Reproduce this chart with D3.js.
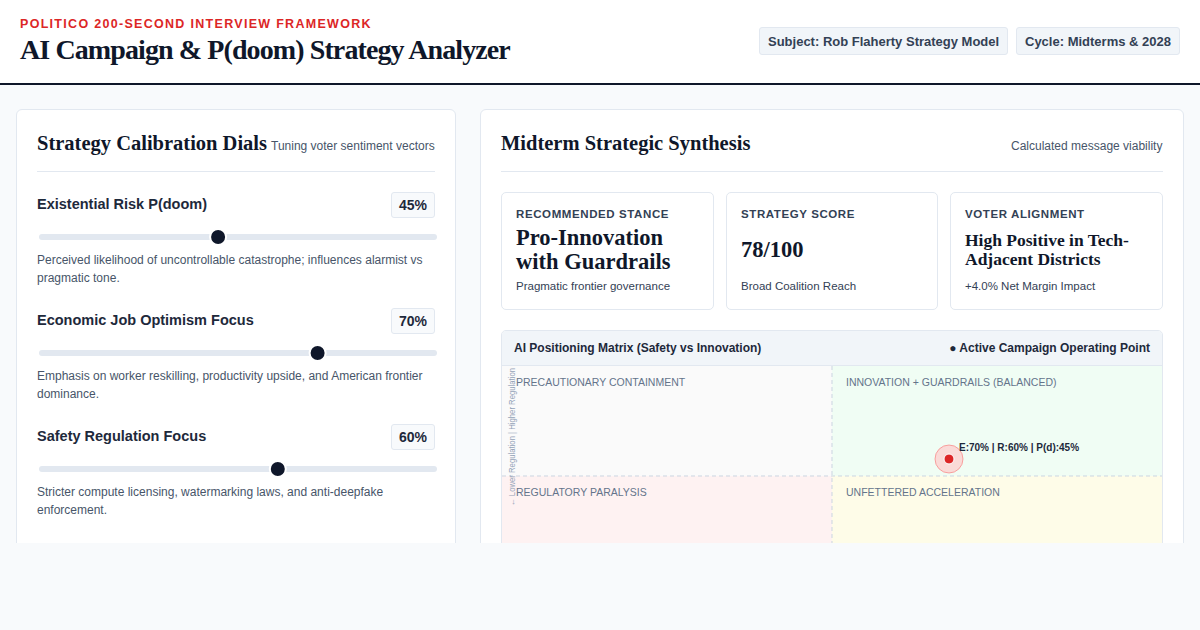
<!DOCTYPE html>
<html><head><meta charset="utf-8">
<script src="https://cdn.jsdelivr.net/npm/d3@7"></script>
<style>
*{box-sizing:border-box;margin:0;padding:0}
body{width:1200px;height:630px;background:#f8fafc;font-family:"Liberation Sans",Arial,sans-serif;color:#0f172a;overflow:hidden;position:relative}
.hdr{position:absolute;left:0;top:0;width:1200px;height:85px;background:#fff;border-bottom:2px solid #0f172a}
.kick{position:absolute;left:20px;top:17px;font-size:12.5px;font-weight:700;letter-spacing:1.3px;color:#dc2626}
.title{position:absolute;left:20px;top:34px;font-family:"Liberation Serif",serif;font-weight:700;font-size:28px;letter-spacing:-0.9px}
.tag{position:absolute;top:27px;height:28px;padding:0 8px;line-height:27px;background:#f1f5f9;border:1px solid #e2e8f0;border-radius:3px;font-size:13px;font-weight:700;color:#334155}
.clip{position:absolute;left:0;top:86px;width:1200px;height:457px;overflow:hidden}
.card{position:absolute;background:#fff;border:1px solid #e2e8f0;border-radius:6px}
.h2{position:absolute;font-family:"Liberation Serif",serif;font-weight:700;font-size:20.5px}
.sub{position:absolute;font-size:12px;color:#475569}
.hr{position:absolute;height:1px;background:#e2e8f0}
.lab{position:absolute;font-size:14.5px;font-weight:700;color:#1e293b}
.pct{position:absolute;width:44px;height:26px;border:1px solid #e2e8f0;background:#f8fafc;border-radius:3px;font-size:14px;font-weight:700;text-align:center;line-height:24px;color:#1e293b}
.desc{position:absolute;font-size:12px;color:#475569;line-height:18px;width:400px}
.mc{position:absolute;top:82px;height:118px;border:1px solid #e2e8f0;border-radius:5px;background:#fff}
.mc .k{position:absolute;left:14px;top:15px;font-size:11.5px;font-weight:700;letter-spacing:.6px;color:#334155}
.mc .v{position:absolute;left:14px;font-family:"Liberation Serif",serif;font-weight:700;color:#0f172a}
.mc .s{position:absolute;left:14px;top:87px;font-size:11.5px;color:#334155}
</style></head><body>
<div class="hdr">
<div class="kick">POLITICO 200-SECOND INTERVIEW FRAMEWORK</div>
<div class="title">AI Campaign &amp; P(doom) Strategy Analyzer</div>
<div class="tag" style="left:759px">Subject: Rob Flaherty Strategy Model</div>
<div class="tag" style="left:1016px">Cycle: Midterms &amp; 2028</div>
</div>
<div class="clip">
<div class="card" style="left:16px;top:23px;width:440px;height:500px">
 <div class="h2" style="left:20px;top:22px">Strategy Calibration Dials</div>
 <div class="sub" style="left:254px;top:29px">Tuning voter sentiment vectors</div>
 <div class="hr" style="left:20px;top:61px;width:398px"></div>
 <div id="dials"></div>
</div>
<div class="card" style="left:480px;top:23px;width:704px;height:500px">
 <div class="h2" style="left:20px;top:22px">Midterm Strategic Synthesis</div>
 <div class="sub" style="left:530px;top:29px">Calculated message viability</div>
 <div class="hr" style="left:20px;top:61px;width:662px"></div>
 <div class="mc" style="left:20px;width:213px"><div class="k">RECOMMENDED STANCE</div><div class="v" style="top:33px;font-size:22.5px;line-height:24px">Pro-Innovation<br>with Guardrails</div><div class="s">Pragmatic frontier governance</div></div>
 <div class="mc" style="left:245px;width:212px"><div class="k">STRATEGY SCORE</div><div class="v" style="top:44px;font-size:22.5px">78/100</div><div class="s">Broad Coalition Reach</div></div>
 <div class="mc" style="left:469px;width:213px"><div class="k">VOTER ALIGNMENT</div><div class="v" style="top:38px;font-size:17.5px;line-height:19px">High Positive in Tech-<br>Adjacent Districts</div><div class="s">+4.0% Net Margin Impact</div></div>
 <div style="position:absolute;left:20px;top:220px;width:662px;height:260px;border:1px solid #e2e8f0;border-radius:5px;overflow:hidden;background:#fff">
  <div style="position:absolute;left:0;top:0;width:662px;height:35px;background:#f1f5f9;border-bottom:1px solid #e2e8f0"></div>
  <div style="position:absolute;left:12px;top:10px;font-size:12px;font-weight:700;color:#1e293b">AI Positioning Matrix (Safety vs Innovation)</div>
  <div style="position:absolute;right:12px;top:10px;font-size:12px;font-weight:700;color:#1e293b">● Active Campaign Operating Point</div>
  <svg id="mx" width="660" height="225" style="position:absolute;left:0;top:35px"></svg>
 </div>
</div>
</div>
<script>
const dialNames=["Existential Risk P(doom)","Economic Job Optimism Focus","Safety Regulation Focus"];
const dialValues=[45,70,60];
const dialDescs=["Perceived likelihood of uncontrollable catastrophe; influences alarmist vs pragmatic tone.","Emphasis on worker reskilling, productivity upside, and American frontier dominance.","Stricter compute licensing, watermarking laws, and anti-deepfake enforcement."];
const quadrantNames=["PRECAUTIONARY CONTAINMENT","INNOVATION + GUARDRAILS (BALANCED)","REGULATORY PARALYSIS","UNFETTERED ACCELERATION"];
const quadrantFills=["#fafafa","#f0fdf4","#fef2f2","#fefce8"];
const point={econ:70,reg:60,pdoom:45};

const dials=d3.select("#dials");
const sx=d3.scaleLinear().domain([0,100]).range([22,420]);
dialNames.forEach((n,i)=>{
 const t=86+i*116;
 dials.append("div").attr("class","lab").style("left","20px").style("top",t+"px").text(n);
 dials.append("div").attr("class","pct").style("left","374px").style("top",(t-4)+"px").text(dialValues[i]+"%");
 const s=dials.append("svg").style("position","absolute").style("left","0").style("top",(t+29)+"px").attr("width",440).attr("height",24);
 s.append("rect").attr("x",sx(0)).attr("y",9).attr("width",sx(100)-sx(0)).attr("height",6).attr("rx",3).attr("fill","#e2e8f0");
 s.append("circle").attr("cx",sx(dialValues[i])).attr("cy",12).attr("r",8).attr("fill","#0f172a").attr("stroke","#fff").attr("stroke-width",2);
 dials.append("div").attr("class","desc").style("left","20px").style("top",(t+55)+"px").text(dialDescs[i]);
});

const svg=d3.select("#mx");
const x=d3.scaleLinear().domain([0,100]).range([37.5,622.5]);
const y=d3.scaleLinear().domain([0,100]).range([195,25]);
const W=660,H=225,cx=x(50),cy=y(50);
const quads=[[0,0,cx,cy],[cx,0,W-cx,cy],[0,cy,cx,H-cy],[cx,cy,W-cx,H-cy]];
quads.forEach((q,i)=>{
 svg.append("rect").attr("x",q[0]).attr("y",q[1]).attr("width",q[2]).attr("height",q[3]).attr("fill",quadrantFills[i]);
 svg.append("text").attr("x",q[0]+14).attr("y",q[1]+20).attr("font-size",10.5).attr("fill","#64748b").text(quadrantNames[i]);
});
svg.append("line").attr("x1",cx).attr("x2",cx).attr("y1",0).attr("y2",H).attr("stroke","#cbd5e1").attr("stroke-dasharray","4,3");
svg.append("line").attr("x1",0).attr("x2",W).attr("y1",cy).attr("y2",cy).attr("stroke","#cbd5e1").attr("stroke-dasharray","4,3");
svg.append("text").attr("transform",`translate(13,140) rotate(-90)`).attr("font-size",9).attr("fill","#94a3b8").attr("textLength",138).attr("lengthAdjust","spacingAndGlyphs").text("← Lower Regulation | Higher Regulation");
const px=x(point.econ),py=y(point.reg);
svg.append("circle").attr("cx",px).attr("cy",py).attr("r",14).attr("fill","#fecaca").attr("fill-opacity",.7).attr("stroke","#f87171").attr("stroke-opacity",.6);
svg.append("circle").attr("cx",px).attr("cy",py).attr("r",5).attr("fill","#dc2626").attr("stroke","#fff").attr("stroke-width",1);
svg.append("text").attr("x",px+10).attr("y",py-8).attr("font-size",10).attr("font-weight",700).attr("fill","#1e293b").text(`E:${point.econ}% | R:${point.reg}% | P(d):${point.pdoom}%`);
</script>
</body></html>
